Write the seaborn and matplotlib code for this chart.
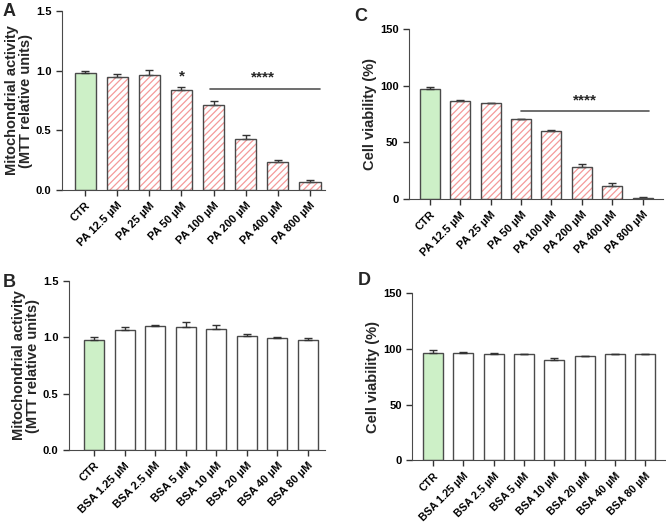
import matplotlib
matplotlib.use("Agg")
import matplotlib.pyplot as plt
import seaborn as sns
from matplotlib.patches import Rectangle

# ---- data ----
pa_labels = ["CTR", "PA 12.5 µM", "PA 25 µM", "PA 50 µM", "PA 100 µM", "PA 200 µM", "PA 400 µM", "PA 800 µM"]
bsa_labels = ["CTR", "BSA 1.25 µM", "BSA 2.5 µM", "BSA 5 µM", "BSA 10 µM", "BSA 20 µM", "BSA 40 µM", "BSA 80 µM"]

mtt_pa = [0.98, 0.945, 0.96, 0.842, 0.714, 0.424, 0.231, 0.07]
mtt_pa_err = [0.02, 0.03, 0.044, 0.025, 0.028, 0.036, 0.02, 0.014]

via_pa = [96.8, 86.5, 84.4, 70.3, 60.2, 28.6, 11.8, 0.9]
via_pa_err = [1.8, 1.2, 0.6, 0.6, 0.6, 2.1, 2.1, 0.9]

mtt_bsa = [0.98, 1.066, 1.101, 1.095, 1.078, 1.01, 0.995, 0.974]
mtt_bsa_err = [0.02, 0.024, 0.012, 0.042, 0.029, 0.023, 0.005, 0.021]

via_bsa = [96.6, 95.8, 95.5, 94.9, 89.8, 93.1, 94.9, 94.9]
via_bsa_err = [2.1, 1.4, 0.5, 0.6, 2.1, 0.6, 0.6, 0.6]

FONT = ["Liberation Sans", "DejaVu Sans"]
EDGE = "#4a4a4a"
GREEN = "#c8f7c0"
PINK = "#f49a9a"

sns.set_style("ticks")
plt.rcParams["font.family"] = FONT
plt.rcParams["font.weight"] = "bold"
plt.rcParams["hatch.linewidth"] = 0.9
plt.rcParams["axes.edgecolor"] = EDGE

fig = plt.figure(figsize=(6.66, 5.24), dpi=100)


def panel(rect, labels, vals, errs, hatched, ylim, yticks, yfmt, ylabel, xlim, letter, letter_xy,
          xfs=8):
    ax = fig.add_axes(rect)
    colors = [GREEN] + (["white"] * (len(labels) - 1))
    sns.barplot(x=labels, y=vals, hue=labels, palette=colors, legend=False,
                edgecolor=EDGE, linewidth=1.0, width=0.66, ax=ax)
    if hatched:
        for p in ax.patches[1:]:
            p.set_hatch("/////")
            p.set_edgecolor(PINK)
            p.set_linewidth(0)
            ax.add_patch(Rectangle((p.get_x(), p.get_y()), p.get_width(), p.get_height(),
                                   fill=False, edgecolor=EDGE, linewidth=1.0, zorder=3))
    ax.errorbar(range(len(vals)), vals, yerr=[[0] * len(errs), errs], fmt="none",
                ecolor="#333333", elinewidth=1.0, capsize=3, capthick=1.0, zorder=2)
    ax.set_ylim(*ylim)
    ax.set_yticks(yticks)
    ax.set_yticklabels([yfmt.format(t) for t in yticks], fontsize=8, fontweight="bold")
    ax.set_xlim(*xlim)
    ax.set_xticks(range(len(labels)))
    ax.set_xticklabels(labels, rotation=45, ha="right", rotation_mode="anchor",
                       fontsize=xfs, fontweight="bold")
    ax.set_ylabel(ylabel, fontsize=10.5, fontweight="bold", linespacing=1.0, labelpad=2)
    ax.tick_params(length=4, width=1.0, colors="#333333", labelcolor="black")
    sns.despine(ax=ax)
    fig.text(letter_xy[0], letter_xy[1], letter, fontsize=13, fontweight="bold",
             family=FONT, va="top")
    return ax


axA = panel([0.0931, 0.6374, 0.395, 0.3416], pa_labels, mtt_pa, mtt_pa_err, True,
            (0, 1.5), [0.0, 0.5, 1.0, 1.5], "{:.1f}",
            "Mitochondrial activity\n(MTT relative units)", (-0.72, 7.47), "A", (0.004, 0.995))
axA.text(3, 0.955, "*", ha="center", va="center", fontsize=11, fontweight="bold")
axA.plot([3.9, 7.3], [0.848, 0.848], color="#555555", lw=1.2, clip_on=False)
axA.text(5.55, 0.945, "****", ha="center", va="center", fontsize=11, fontweight="bold")

axC = panel([0.614, 0.620, 0.381, 0.3244], pa_labels, via_pa, via_pa_err, True,
            (0, 150), [0, 50, 100, 150], "{:.0f}",
            "Cell viability (%)", (-0.69, 7.66), "C", (0.532, 0.985))
axC.plot([3.0, 7.2], [78, 78], color="#555555", lw=1.2, clip_on=False)
axC.text(5.1, 87, "****", ha="center", va="center", fontsize=11, fontweight="bold")

panel([0.1036, 0.1412, 0.3844, 0.3225], bsa_labels, mtt_bsa, mtt_bsa_err, False,
      (0, 1.5), [0.0, 0.5, 1.0, 1.5], "{:.1f}",
      "Mitochondrial activity\n(MTT relative units)", (-0.82, 7.56), "B", (0.004, 0.478))

panel([0.619, 0.1215, 0.381, 0.3195], bsa_labels, via_bsa, via_bsa_err, False,
      (0, 150), [0, 50, 100, 150], "{:.0f}",
      "Cell viability (%)", (-0.69, 7.69), "D", (0.537, 0.48), xfs=7.7)

fig.savefig("out.png", dpi=100)
